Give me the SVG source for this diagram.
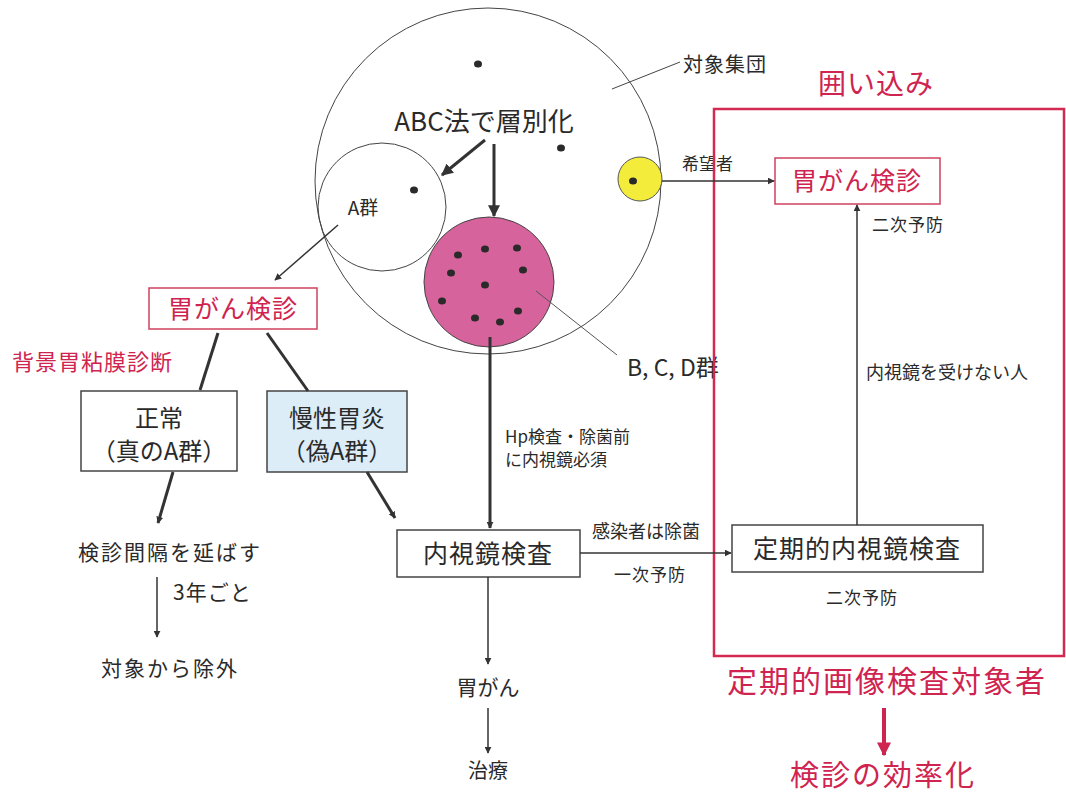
<svg xmlns="http://www.w3.org/2000/svg" width="1066" height="797" viewBox="0 0 1066 797">
<style>
text{font-family:"Noto Sans CJK JP","Noto Sans",sans-serif;fill:#2a2a2a}
.red{fill:#cf2450}
.c{text-anchor:middle}
.box{fill:#fff;stroke:#444;stroke-width:1.5}
.rbox{fill:#fff;stroke:#d0405e;stroke-width:1.5}
.thin{fill:none;stroke:#333;stroke-width:1.5}
.thick{fill:none;stroke:#333;stroke-width:3}
.dot{fill:#2a2a2a}
</style>
<defs>
<marker id="ah" viewBox="0 0 10 10" refX="9" refY="5" markerWidth="7" markerHeight="7" markerUnits="userSpaceOnUse" orient="auto"><path d="M0,0L10,5L0,10z" fill="#333"/></marker>
<marker id="ahs" viewBox="0 0 10 10" refX="9" refY="5" markerWidth="12" markerHeight="12" markerUnits="userSpaceOnUse" orient="auto"><path d="M0,0L10,5L0,10z" fill="#333"/></marker>
<marker id="ahr" viewBox="0 0 10 10" refX="9" refY="5" markerWidth="14" markerHeight="14" markerUnits="userSpaceOnUse" orient="auto"><path d="M0,0L10,5L0,10z" fill="#cf2450"/></marker>
</defs>

<g id="population">
<circle cx="488" cy="181" r="173" fill="none" stroke="#444" stroke-width="1"/>
<ellipse class="dot" cx="478" cy="64" rx="4" ry="3.5"/>
<ellipse class="dot" cx="561" cy="148" rx="4" ry="3.5"/>
<text x="683" y="72" font-size="20" letter-spacing="1">対象集団</text>
<line x1="680" y1="62" x2="612" y2="89" stroke="#444" stroke-width="1"/>
<text class="c" x="484" y="131" font-size="26">ABC法で層別化</text>
</g>

<g id="groupA">
<circle cx="382" cy="207" r="64" fill="none" stroke="#444" stroke-width="1"/>
<ellipse class="dot" cx="414" cy="190" rx="4" ry="3.5"/>
<text class="c" x="363" y="215" font-size="19">A群</text>
</g>

<g id="groupBCD">
<circle cx="489" cy="282" r="65" fill="#d6639b" stroke="#444" stroke-width="1"/>
<ellipse class="dot" cx="458" cy="255" rx="4" ry="3.5"/>
<ellipse class="dot" cx="485" cy="249" rx="4" ry="3.5"/>
<ellipse class="dot" cx="517" cy="248" rx="4" ry="3.5"/>
<ellipse class="dot" cx="451" cy="273" rx="4" ry="3.5"/>
<ellipse class="dot" cx="523" cy="270" rx="4" ry="3.5"/>
<ellipse class="dot" cx="485" cy="285" rx="4" ry="3.5"/>
<ellipse class="dot" cx="442" cy="301" rx="4" ry="3.5"/>
<ellipse class="dot" cx="518" cy="311" rx="4" ry="3.5"/>
<ellipse class="dot" cx="475" cy="318" rx="4" ry="3.5"/>
<ellipse class="dot" cx="500" cy="322" rx="4" ry="3.5"/>
<line x1="536" y1="291" x2="617" y2="355" stroke="#555" stroke-width="1"/>
<text x="627" y="376" font-size="23">B, C, D群</text>
</g>

<g id="volunteer">
<circle cx="640" cy="179" r="22" fill="#f3ec3a" stroke="#555" stroke-width="1"/>
<ellipse class="dot" cx="633" cy="181" rx="4" ry="3.5"/>
<text x="682" y="170" font-size="17">希望者</text>
</g>

<g id="screeningLeft">
<rect class="rbox" x="149" y="288" width="168" height="41"/>
<text class="c red" x="233" y="318" font-size="25" letter-spacing="1">胃がん検診</text>
<text class="red" x="12" y="370" font-size="22" letter-spacing="1">背景胃粘膜診断</text>
</g>

<g id="normal">
<rect class="box" x="81" y="391" width="156" height="80"/>
<text class="c" x="159" y="427" font-size="24">正常</text>
<text class="c" x="159" y="460" font-size="24">（真のA群）</text>
</g>

<g id="gastritis">
<rect x="267" y="391" width="140" height="81" fill="#dcedf8" stroke="#444" stroke-width="1.5"/>
<text class="c" x="337" y="427" font-size="24">慢性胃炎</text>
<text class="c" x="337" y="460" font-size="24">（偽A群）</text>
</g>

<g id="extend">
<text class="c" x="170" y="560" font-size="21" letter-spacing="2">検診間隔を延ばす</text>
<text x="173" y="600" font-size="21" letter-spacing="1">3年ごと</text>
<text class="c" x="170" y="676" font-size="21" letter-spacing="2">対象から除外</text>
</g>

<g id="endoscopy">
<rect class="box" x="397" y="530" width="183" height="47"/>
<text class="c" x="488" y="563" font-size="25" letter-spacing="1">内視鏡検査</text>
<text x="505" y="443" font-size="17">Hp検査・除菌前</text>
<text x="505" y="466" font-size="17">に内視鏡必須</text>
<text x="592" y="538" font-size="18">感染者は除菌</text>
<text class="c" x="650" y="581" font-size="17" letter-spacing="1">一次予防</text>
</g>

<g id="cancer">
<text class="c" x="488" y="695" font-size="21">胃がん</text>
<text class="c" x="488" y="778" font-size="20">治療</text>
</g>

<g id="enclosure">
<rect x="714" y="109" width="350" height="547" fill="none" stroke="#d42a52" stroke-width="2.5"/>
<text class="c red" x="876" y="94" font-size="28" letter-spacing="1">囲い込み</text>
<text class="c red" x="887" y="692" font-size="30" letter-spacing="2">定期的画像検査対象者</text>
<text class="c red" x="883" y="786" font-size="29" letter-spacing="2">検診の効率化</text>
</g>

<g id="screeningRight">
<rect class="rbox" x="775" y="158" width="165" height="46"/>
<text class="c red" x="857" y="190" font-size="25" letter-spacing="1">胃がん検診</text>
<text x="872" y="231" font-size="17" letter-spacing="1">二次予防</text>
<text x="866" y="379" font-size="18">内視鏡を受けない人</text>
</g>

<g id="periodic">
<rect class="box" x="732" y="525" width="251" height="47"/>
<text class="c" x="857" y="558" font-size="25" letter-spacing="1">定期的内視鏡検査</text>
<text class="c" x="862" y="604" font-size="17" letter-spacing="1">二次予防</text>
</g>

<g id="connectors">
<line class="thick" x1="485" y1="140" x2="442" y2="175" stroke-width="4" marker-end="url(#ahs)"/>
<line class="thick" x1="494" y1="144" x2="494" y2="216" marker-end="url(#ahs)"/>
<line class="thin" x1="338" y1="225" x2="275" y2="280" marker-end="url(#ah)"/>
<line class="thick" x1="218" y1="333" x2="200" y2="390"/>
<line class="thick" x1="267" y1="333" x2="308" y2="391"/>
<line class="thick" x1="173" y1="472" x2="158" y2="523" marker-end="url(#ah)"/>
<line class="thick" x1="367" y1="472" x2="395" y2="518" marker-end="url(#ah)"/>
<line class="thin" x1="157" y1="577" x2="157" y2="637" marker-end="url(#ah)"/>
<line class="thick" x1="490" y1="337" x2="490" y2="528" marker-end="url(#ah)"/>
<line class="thin" x1="580" y1="553" x2="731" y2="553" marker-end="url(#ah)"/>
<line class="thin" x1="488" y1="577" x2="488" y2="664" marker-end="url(#ah)"/>
<line class="thin" x1="488" y1="708" x2="488" y2="753" marker-end="url(#ah)"/>
<line class="thin" x1="662" y1="181" x2="774" y2="181" marker-end="url(#ah)"/>
<line class="thin" x1="857" y1="525" x2="857" y2="205" marker-end="url(#ah)"/>
<line x1="884" y1="708" x2="884" y2="755" stroke="#cf2450" stroke-width="4" marker-end="url(#ahr)"/>
</g>
</svg>
